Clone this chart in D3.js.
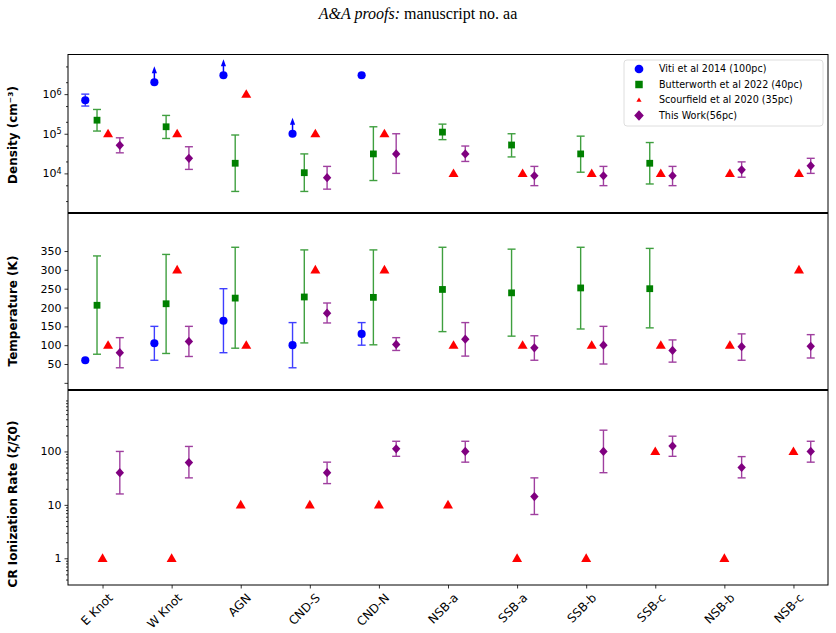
<!DOCTYPE html>
<html lang="en">
<head>
<meta charset="UTF-8">
<title>Density / Temperature / CR ionization comparison</title>
<style>
  body { margin: 0; background: #fff; }
  svg { display: block; font-family: 'DejaVu Sans', sans-serif; }
  .axis path { stroke: none; }
  .axis line { stroke: #000; stroke-width: 0.8; }
  .axis text { font-family: 'DejaVu Sans', sans-serif; font-size: 11px; fill: #000; }
  .xaxis text { font-size: 12px; }
</style>
</head>
<body>
<svg width="836" height="633"></svg>
<script src="https://d3js.org/d3.v7.min.js"></script>
<script>
const categories = ["E Knot", "W Knot", "AGN", "CND-S", "CND-N", "NSB-a", "SSB-a", "SSB-b", "SSB-c", "NSB-b", "NSB-c"];

// density (cm^-3)
const vitiDens      = [7e5, 2e6, 3e6, 1e5, 3e6, null, null, null, null, null, null];
const vitiDensLo    = [5e5, null, null, null, null, null, null, null, null, null, null];
const vitiDensHi    = [1e6, null, null, null, null, null, null, null, null, null, null];
const vitiDensLimit = [false, true, true, true, false, false, false, false, false, false, false];
const butterDens    = [2.2e5, 1.5e5, 1.8e4, 1.04e4, 3.1e4, 1.1e5, 5.2e4, 3.1e4, 1.8e4, null, null];
const butterDensLo  = [1.17e5, 7.6e4, 3.5e3, 3.5e3, 6.6e3, 7.1e4, 2.6e4, 1.07e4, 5.4e3, null, null];
const butterDensHi  = [4.1e5, 2.9e5, 9.3e4, 3.1e4, 1.5e5, 1.75e5, 1e5, 8.7e4, 6e4, null, null];
const scourDens     = [1e5, 1e5, 1e6, 1e5, 1e5, 1e4, 1e4, 1e4, 1e4, 1e4, 1e4];
const thisDens      = [5.1e4, 2.4e4, null, 7.8e3, 3.1e4, 3.1e4, 8.7e3, 8.7e3, 8.7e3, 1.23e4, 1.55e4];
const thisDensLo    = [3.3e4, 1.26e4, null, 4e3, 1e4, 2e4, 4.9e3, 4.9e3, 4.9e3, 8e3, 1e4];
const thisDensHi    = [7.9e4, 4.7e4, null, 1.5e4, 1e5, 4.9e4, 1.5e4, 1.5e4, 1.5e4, 1.95e4, 2.4e4];

// temperature (K)
const vitiTemp     = [60, 105, 165, 100, 130, null, null, null, null, null, null];
const vitiTempLo   = [null, 60, 80, 40, 100, null, null, null, null, null, null];
const vitiTempHi   = [null, 150, 250, 160, 160, null, null, null, null, null, null];
const butterTemp   = [206, 210, 225, 228, 227, 248, 239, 252, 250, null, null];
const butterTempLo = [76, 78, 92, 106, 101, 136, 124, 143, 146, null, null];
const butterTempHi = [337, 341, 360, 353, 353, 360, 355, 360, 357, null, null];
const scourTemp    = [100, 300, 100, 300, 300, 100, 100, 100, 100, 100, 300];
const thisTemp     = [80, 110, null, 185, 102, 116, 93, 100, 86, 96, 97];
const thisTempLo   = [40, 70, null, 159, 86, 71, 60, 50, 55, 60, 66];
const thisTempHi   = [120, 150, null, 212, 120, 160, 125, 150, 114, 130, 128];

// CR ionization rate (zeta/zeta0)
const scourCR  = [1, 1, 10, 10, 10, 10, 1, 1, 100, 1, 100];
const thisCR   = [40, 62, null, 40, 112, 100, 14.3, 100, 126, 50, 100];
const thisCRLo = [16, 32, null, 25, 81, 63, 6.6, 40, 81, 32, 63];
const thisCRHi = [100, 124, null, 63, 155, 155, 32, 250, 193, 80, 155];

const legendLabels = ["Viti et al 2014 (100pc)", "Butterworth et al 2022 (40pc)", "Scourfield et al 2020 (35pc)", "This Work(56pc)"];
const tempTicks = [0, 50, 100, 150, 200, 250, 300, 350];

const colors = { viti: "#0000ff", butter: "#008000", scour: "#ff0000", mine: "#800080" };

const svg = d3.select("svg");
const left = 68, right = 828;
const panels = [
  { top: 54.5, bottom: 213 },
  { top: 213, bottom: 390 },
  { top: 390, bottom: 585 }
];

const x = d3.scaleLinear().domain([-0.5, 10.5]).range([left, right]);
const yD = d3.scaleLog().domain([1e3, 1e7]).range([panels[0].bottom, panels[0].top]);
const yT = d3.scaleLinear().domain([-19, 451]).range([panels[1].bottom, panels[1].top]);
const yC = d3.scaleLog().domain([Math.pow(10, -0.5), Math.pow(10, 3.15)]).range([panels[2].bottom, panels[2].top]);

// title
svg.append("text")
  .attr("x", 418).attr("y", 19)
  .attr("text-anchor", "middle")
  .attr("font-family", "'Liberation Serif', 'DejaVu Serif', serif")
  .attr("font-size", 16)
  .call(t => {
    t.append("tspan").attr("font-style", "italic").text("A&A proofs:");
    t.append("tspan").text(" manuscript no. aa");
  });

// symbols
const sym = {
  circle: d3.symbol().type(d3.symbolCircle).size(52)(),
  square: d3.symbol().type(d3.symbolSquare).size(46)(),
  triangle: "M0,-5L5,3.6L-5,3.6Z",
  triSmall: "M0,-2.6L2.6,1.8L-2.6,1.8Z",
  diamond: "M0,-4.6L4.2,0L0,4.6L-4.2,0Z"
};
const legendSym = {
  circle: d3.symbol().type(d3.symbolCircle).size(60)(),
  square: d3.symbol().type(d3.symbolSquare).size(56)(),
  diamond: "M0,-5.2L4.8,0L0,5.2L-4.8,0Z"
};

function minorTicks(domain, subs) {
  const out = [];
  const lo = Math.floor(Math.log10(domain[0])), hi = Math.ceil(Math.log10(domain[1]));
  for (let e = lo; e <= hi; e++) {
    subs.forEach(s => {
      const v = s * Math.pow(10, e);
      if (v >= domain[0] && v <= domain[1]) out.push(v);
    });
  }
  return out;
}

function drawSeries(yScale, vals, lo, hi, offset, color, path, limits) {
  const g = svg.append("g");
  vals.forEach((v, i) => {
    if (v == null) return;
    const cx = x(i + offset), cy = yScale(v);
    if (lo && lo[i] != null) {
      const eg = g.append("g").attr("stroke", color).attr("stroke-width", 1.4).attr("opacity", 0.75);
      eg.append("line").attr("x1", cx).attr("x2", cx).attr("y1", yScale(lo[i])).attr("y2", yScale(hi[i]));
      eg.append("line").attr("x1", cx - 4).attr("x2", cx + 4).attr("y1", yScale(lo[i])).attr("y2", yScale(lo[i]));
      eg.append("line").attr("x1", cx - 4).attr("x2", cx + 4).attr("y1", yScale(hi[i])).attr("y2", yScale(hi[i]));
    }
    if (limits && limits[i]) {
      g.append("line").attr("x1", cx).attr("x2", cx).attr("y1", cy).attr("y2", cy - 11)
        .attr("stroke", color).attr("stroke-width", 1.5);
      g.append("path").attr("d", `M${cx},${cy - 16}L${cx + 2.6},${cy - 9}L${cx - 2.6},${cy - 9}Z`).attr("fill", color);
    }
    g.append("path").attr("d", path).attr("transform", `translate(${cx},${cy})`).attr("fill", color);
  });
}

// panel 1: density
drawSeries(yD, vitiDens, vitiDensLo, vitiDensHi, -0.25, colors.viti, sym.circle, vitiDensLimit);
drawSeries(yD, butterDens, butterDensLo, butterDensHi, -0.08, colors.butter, sym.square);
drawSeries(yD, scourDens, null, null, 0.08, colors.scour, sym.triangle);
drawSeries(yD, thisDens, thisDensLo, thisDensHi, 0.25, colors.mine, sym.diamond);

// panel 2: temperature
drawSeries(yT, vitiTemp, vitiTempLo, vitiTempHi, -0.25, colors.viti, sym.circle);
drawSeries(yT, butterTemp, butterTempLo, butterTempHi, -0.08, colors.butter, sym.square);
drawSeries(yT, scourTemp, null, null, 0.08, colors.scour, sym.triangle);
drawSeries(yT, thisTemp, thisTempLo, thisTempHi, 0.25, colors.mine, sym.diamond);

// panel 3: CR ionization
drawSeries(yC, scourCR, null, null, 0, colors.scour, sym.triangle);
drawSeries(yC, thisCR, thisCRLo, thisCRHi, 0.25, colors.mine, sym.diamond);

// axes
const axD = svg.append("g").attr("class", "axis").attr("transform", `translate(${left},0)`)
  .call(d3.axisLeft(yD).tickValues([1e4, 1e5, 1e6]).tickSize(3.5).tickPadding(3).tickFormat(""));
axD.selectAll(".tick text").each(function(d) {
  const t = d3.select(this);
  t.append("tspan").text("10");
  t.append("tspan").attr("dy", "-0.45em").attr("font-size", "8px").text(Math.round(Math.log10(d)));
});
svg.append("g").attr("class", "axis").attr("transform", `translate(${left},0)`)
  .call(d3.axisLeft(yD).tickValues(minorTicks(yD.domain(), [2, 5])).tickSize(2).tickFormat(""));

svg.append("g").attr("class", "axis").attr("transform", `translate(${left},0)`)
  .call(d3.axisLeft(yT).tickValues(tempTicks).tickSize(3.5).tickPadding(3).tickFormat(d => d === 0 ? "" : d));

svg.append("g").attr("class", "axis").attr("transform", `translate(${left},0)`)
  .call(d3.axisLeft(yC).tickValues([1, 10, 100]).tickSize(3.5).tickPadding(3).tickFormat(d3.format("d")));
svg.append("g").attr("class", "axis").attr("transform", `translate(${left},0)`)
  .call(d3.axisLeft(yC).tickValues(minorTicks(yC.domain(), [2, 3, 4, 5, 6, 7, 8, 9])).tickSize(2).tickFormat(""));

const axX = svg.append("g").attr("class", "axis xaxis").attr("transform", `translate(0,${panels[2].bottom})`)
  .call(d3.axisBottom(x).tickValues(d3.range(categories.length)).tickSize(3.5).tickFormat(i => categories[i]));
axX.selectAll(".tick text")
  .attr("text-anchor", "end")
  .attr("transform", "translate(3,6) rotate(-45)")
  .attr("dy", "0.35em");

// spines
panels.forEach((p, k) => {
  const t = k === 0 ? p.top : p.top + 0.5;
  const b = k === 2 ? p.bottom : p.bottom - 0.5;
  svg.append("rect").attr("x", left).attr("y", t).attr("width", right - left).attr("height", b - t)
    .attr("fill", "none").attr("stroke", "#000").attr("stroke-width", 1);
});

// y labels
const ylabels = [["Density (cm⁻³)", 17, 135], ["Temperature (K)", 17, 311], ["CR Ionization Rate (ζ/ζ0)", 17, 504]];
ylabels.forEach(([txt, lx, ly]) => {
  svg.append("text").attr("transform", `translate(${lx},${ly}) rotate(-90)`)
    .attr("text-anchor", "middle").attr("font-weight", "bold").attr("font-size", 12).text(txt);
});

// legend
const lg = svg.append("g").attr("transform", "translate(624,60)");
lg.append("rect").attr("width", 199).attr("height", 66).attr("rx", 3)
  .attr("fill", "#fff").attr("fill-opacity", 0.85).attr("stroke", "#d6d6d6").attr("stroke-width", 0.8);
const lgSyms = [[legendSym.circle, colors.viti], [legendSym.square, colors.butter], [sym.triSmall, colors.scour], [legendSym.diamond, colors.mine]];
legendLabels.forEach((lab, i) => {
  const ly = 9 + i * 15.5;
  lg.append("path").attr("d", lgSyms[i][0]).attr("fill", lgSyms[i][1]).attr("transform", `translate(15,${ly})`);
  lg.append("text").attr("x", 35).attr("y", ly).attr("dy", "0.35em").attr("font-size", 9.6).text(lab);
});
</script>
</body>
</html>
